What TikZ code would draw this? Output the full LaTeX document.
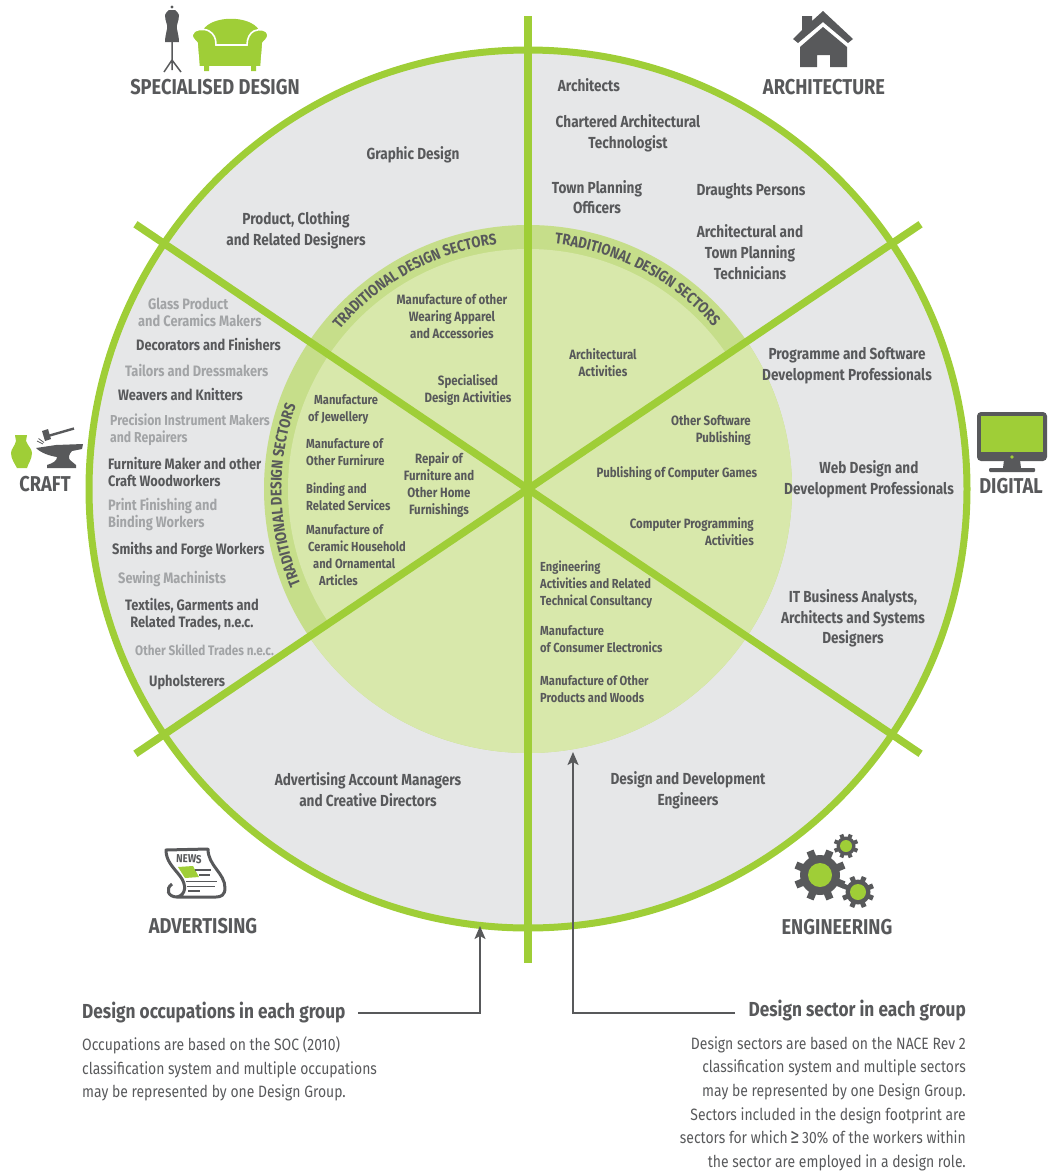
\documentclass[tikz,border=0pt]{standalone}
\usepackage{fontspec}
\setmainfont[FakeStretch=0.85]{Fira Sans}
\usetikzlibrary{decorations.text, arrows.meta, positioning}
\definecolor{leafgreen}{HTML}{9FCE37}
\definecolor{ringgreen}{HTML}{C6DE8A}
\definecolor{discgreen}{HTML}{D8E8AB}
\definecolor{panelgray}{HTML}{E6E7E8}
\definecolor{inkdark}{HTML}{58595B}
\definecolor{inklight}{HTML}{A2A4A6}
\begin{document}
\begin{tikzpicture}[
        x=1pt, y=-1pt,
        spoke/.style={draw=leafgreen, line width=7.5pt},
        occ/.style={font=\fontsize{16}{20.7}\selectfont\bfseries, text=inkdark, align=center, inner sep=0pt},
        craftdark/.style={font=\fontsize{15.1}{17}\selectfont\bfseries, text=inkdark, align=left, inner sep=0pt, anchor=west},
        craftlight/.style={craftdark, text=inklight},
        craftnarrow/.style={craftlight, font=\fontsize{14.4}{17}\selectfont\bfseries},
        sector/.style={font=\fontsize{13.5}{17}\selectfont\bfseries, text=inkdark, align=center, inner sep=0pt},
        sectorleft/.style={sector, font=\fontsize{13.1}{17}\selectfont\bfseries, align=left, anchor=west},
        sectorright/.style={sector, align=right, anchor=east},
        group/.style={font=\fontsize{21.5}{24}\selectfont\bfseries, text=inkdark, inner sep=0pt},
        keytitle/.style={font=\fontsize{20.3}{24}\selectfont\bfseries, text=inkdark, inner sep=0pt},
        keybody/.style={font=\fontsize{16.4}{23.7}\selectfont, text=inkdark, inner sep=0pt},
        keyline/.style={draw=inkdark, line width=2pt},
        keyarrow/.style={keyline, -{Stealth[length=13pt, width=11pt, inset=3pt]}},
        ringtext/.style={decorate, decoration={text along path, text align=center,
            text={|\fontsize{15.5}{15.5}\selectfont\bfseries\color{inkdark}|TRADITIONAL DESIGN SECTORS}}}
    ]
    \useasboundingbox (0,0) rectangle (1050,1173);
    \def\rOuter{439}
    \def\rRing{264}
    \def\rDisc{240}
    \def\rText{246.5}
    \def\spokeLen{473.5}
    \coordinate (hub) at (528,489);

    % wheel
    \fill[panelgray] (hub) circle[radius=\rOuter];
    \fill[ringgreen] (hub) circle[radius=\rRing];
    \fill[discgreen] (hub) -- ++(-34:\rRing) arc[start angle=-34, end angle=146, radius=\rRing] -- cycle;
    \fill[discgreen] (hub) circle[radius=\rDisc];
    \foreach \ang in {90,34,-34} {
        \draw[spoke] (hub) ++(\ang:\spokeLen) -- ++(\ang+180:2*\spokeLen);
    }
    \draw[leafgreen, line width=7pt] (hub) circle[radius=\rOuter];

    % text in the ring
    \path[ringtext] (hub) ++(156:\rText) arc[start angle=156, end angle=201, radius=\rText];
    \path[ringtext] (hub) ++(218:\rText) arc[start angle=218, end angle=265, radius=\rText];
    \path[ringtext] (hub) ++(274:\rText) arc[start angle=274, end angle=321, radius=\rText];

    % occupations
    \node[occ] (architects) at (589,85) {Architects};
    \node[occ] (chartered) at (628,133.5) {Chartered Architectural\\Technologist};
    \node[occ] (planning) at (597,197) {Town Planning\\Officers};
    \node[occ] (draughts) at (751,191) {Draughts Persons};
    \node[occ] (technicians) at (750,252) {Architectural and\\Town Planning\\Technicians};
    \node[occ] (graphic) at (413,155) {Graphic Design};
    \node[occ] (product) at (296,230.5) {Product, Clothing\\and Related Designers};
    \node[occ] (programme) at (847,365.5) {Programme and Software\\Development Professionals};
    \node[occ] (web) at (869,479.5) {Web Design and\\Development Professionals};
    \node[occ] (analysts) at (853,618.5) {IT Business Analysts,\\Architects and Systems\\Designers};
    \node[occ] (engineers) at (688,790.5) {Design and Development\\Engineers};
    \node[occ] (managers) at (368,789.5) {Advertising Account Managers\\and Creative Directors};

    % craft column
    \node[craftlight] (glass) at (138,312) {\hspace*{10pt}Glass Product\\and Ceramics Makers};
    \node[craftdark] (decorators) at (136,344) {Decorators and Finishers};
    \node[craftlight] (tailors) at (125,370) {Tailors and Dressmakers};
    \node[craftdark] (weavers) at (118,394) {Weavers and Knitters};
    \node[craftnarrow] (precision) at (110,429.5) {Precision Instrument Makers\\and Repairers};
    \node[craftdark] (furniture) at (108,471.5) {Furniture Maker and other\\Craft Woodworkers};
    \node[craftlight] (finishing) at (108,514.5) {Print Finishing and\\Binding Workers};
    \node[craftdark] (smiths) at (112,550) {Smiths and Forge Workers};
    \node[craftlight] (sewing) at (118,579) {Sewing Machinists};
    \node[craftdark, align=center, anchor=center] (textiles) at (192,614.5) {Textiles, Garments and\\Related Trades, n.e.c.};
    \node[craftnarrow, font=\fontsize{13.8}{17}\selectfont\bfseries] (skilled) at (135,650) {Other Skilled Trades n.e.c.};
    \node[craftdark] (upholsterers) at (149,682) {Upholsterers};

    % sectors
    \node[sector] (apparel) at (452,316) {Manufacture of other\\Wearing Apparel\\and Accessories};
    \node[sector] (specialised) at (468,390.5) {Specialised\\Design Activities};
    \node[sectorleft] (jewellery) at (308,409.5) {\hspace*{6pt}Manufacture\\of Jewellery};
    \node[sectorleft] (furnirure) at (306,452.5) {Manufacture of\\Other Furnirure};
    \node[sectorleft] (binding) at (306,496.5) {Binding and\\Related Services};
    \node[sectorleft] (ceramic) at (306,555.5) {Manufacture of\\\hspace*{2pt}Ceramic Household\\\hspace*{7pt}and Ornamental\\\hspace*{13pt}Articles};
    \node[sector] (repair) at (439,485.5) {Repair of\\Furniture and\\Other Home\\Furnishings};
    \node[sector] (activities) at (603,363) {Architectural\\Activities};
    \node[sectorright] (software) at (751,430.5) {Other Software\\Publishing};
    \node[sector] (games) at (677,474) {Publishing of Computer Games};
    \node[sectorright] (computing) at (754,531.5) {Computer Programming\\Activities};
    \node[sectorleft] (consultancy) at (540,585) {Engineering\\Activities and Related\\Technical Consultancy};
    \node[sectorleft] (electronics) at (540,639.5) {Manufacture\\of Consumer Electronics};
    \node[sectorleft] (woods) at (540,689.5) {Manufacture of Other\\Products and Woods};

    % group names
    \node[group] (specialgroup) at (215,87) {SPECIALISED DESIGN};
    \node[group] (archgroup) at (824,87) {ARCHITECTURE};
    \node[group] (digitalgroup) at (1011,486) {DIGITAL};
    \node[group] (craftgroup) at (45,484) {CRAFT};
    \node[group] (advertgroup) at (203,926) {ADVERTISING};
    \node[group] (enggroup) at (837,927) {ENGINEERING};

    % mannequin and sofa
    \fill[inkdark] (172,7) circle[radius=1.6];
    \fill[inkdark] (169,10) -- (175,10) .. controls (176,12) and (179,12) .. (179,15) .. controls (179,22) and (176,24) .. (177,29) .. controls (178,34) and (179,38) .. (179,42) -- (165,42) .. controls (165,38) and (166,34) .. (167,29) .. controls (168,24) and (165,22) .. (165,15) .. controls (165,12) and (168,12) .. (169,10) -- cycle;
    \draw[inkdark, line width=1.5pt] (172,42) -- (172,70) (172,60) -- (164,72) (172,60) -- (181,72);
    \fill[leafgreen] (203,30) .. controls (212,15) and (250,15) .. (259,30) -- (259,48) -- (203,48) -- cycle;
    \fill[leafgreen, draw=white, line width=1.6pt] (192,35) .. controls (193,29) and (204,28) .. (209,31) .. controls (214,34) and (216,38) .. (216,45) -- (247,45) .. controls (247,38) and (250,33) .. (254,31) .. controls (260,28) and (268,30) .. (268,35) .. controls (268,39) and (264,41) .. (263,43) -- (261,67) -- (199,67) -- (197,43) .. controls (196,41) and (192,39) .. (192,35) -- cycle;
    \fill[leafgreen] (204,66) rectangle (209,71) (251,66) rectangle (256,71);

    % house
    \fill[inkdark] (823,11) -- (853,39) -- (848,43) -- (823,22) -- (798,43) -- (793,39) -- (802,30) -- (802,16) -- (812,16) -- (812,21) -- cycle;
    \fill[inkdark] (823,27) -- (847,47) -- (847,67) -- (830,67) -- (830,55) -- (817,55) -- (817,67) -- (800,67) -- (800,47) -- cycle;

    % monitor
    \fill[inkdark, rounded corners=4pt] (977,412) rectangle (1047,461);
    \fill[leafgreen] (981,416) rectangle (1043,451.5);
    \fill[leafgreen] (1012,457) circle[radius=1.8];
    \fill[inkdark] (1004,460) -- (1020,460) -- (1021,468) -- (1003,468) -- cycle;
    \fill[inkdark, rounded corners=1pt] (989,468) rectangle (1035,472);

    % vase, anvil and hammer
    \fill[leafgreen] (15,435) -- (27,435) -- (26,441) .. controls (28,446) and (32,449) .. (32,453) .. controls (32,459) and (28,464) .. (27,468) -- (17,468) .. controls (15,464) and (11,459) .. (11,453) .. controls (11,449) and (15,446) .. (16,441) -- cycle;
    \fill[inkdark] (36,448) -- (56,445) -- (83,444) -- (82,449) -- (72,451) .. controls (69,454) and (68,458) .. (70,460) -- (76,465) -- (76,468) -- (47,468) -- (47,465) .. controls (53,463) and (57,461) .. (57,457) .. controls (50,456) and (41,453) .. (36,448) -- cycle;
    \fill[inkdark] (42,431) -- (48,429) -- (51,439) -- (45,441) -- cycle;
    \draw[inkdark, line width=2.4pt] (48,436) -- (74,428.5);
    \draw[inkdark, line width=.8pt] (37,441) -- (43,444) (38.5,438.5) -- (44,442.5);

    % newspaper
    \draw[inkdark, line width=3pt, fill=white, line join=round] (166,850) -- (208,849) .. controls (208,866) and (225,873) .. (225,888) .. controls (225,895) and (221,897) .. (216,897) -- (177,897) .. controls (186,895) and (187,885) .. (180,876) .. controls (173,867) and (166,861) .. (166,850) -- cycle;
    \draw[inkdark, line width=3pt] (177,897) .. controls (168,897) and (165,889) .. (172,884);
    \node[font=\fontsize{11.5}{11.5}\selectfont\bfseries, text=inkdark, inner sep=0pt, rotate=-2] (newshead) at (189,859) {NEWS};
    \fill[leafgreen] (178,867) -- (193,866) -- (199,877) -- (185,878) -- cycle;
    \draw[inkdark, line width=1.8pt] (195,870) -- (211,870) (199,875) -- (210,875) (186,881.5) -- (217,881.5) (187,886.5) -- (215,886.5) (188,891) -- (200,891);

    % gears
    \foreach \gx/\gy/\gr/\gh/\gw in {820/875/20/12/7.5, 858/892/12.5/8/5, 846/846/9.5/6/4} {
        \fill[inkdark] (\gx,\gy) circle[radius=\gr];
        \foreach \ang in {0,45,...,135} {
            \fill[inkdark, rotate around={\ang+22.5:(\gx,\gy)}] (\gx-\gr*1.3,\gy-\gw/2) rectangle (\gx+\gr*1.3,\gy+\gw/2);
        }
        \fill[leafgreen] (\gx,\gy) circle[radius=\gh];
    }

    % keys
    \node[keytitle, anchor=west] (occtitle) at (82,1013) {Design occupations in each group};
    \node[keybody, anchor=north west, align=left] (occbody) at (82,1036.5) {Occupations are based on the SOC (2010)\\classification system and multiple occupations\\may be represented by one Design Group.};
    \node[keytitle, anchor=east] (sectitle) at (966,1011) {Design sector in each group};
    \node[keybody, anchor=north east, align=right] (secbody) at (966,1036) {Design sectors are based on the NACE Rev 2\\classification system and multiple sectors\\may be represented by one Design Group.\\Sectors included in the design footprint are\\sectors for which\,{\fontsize{21}{21}\selectfont ≥}\,30\% of the workers within\\the sector are employed in a design role.};
    \coordinate (occtip) at (480,926);
    \coordinate (sectip) at (573,752);
    \coordinate (occstart) at (358,1013);
    \coordinate (secstart) at (735,1013);
    \draw[keyarrow] (occstart) -| (occtip);
    \draw[keyarrow] (secstart) -| (sectip);
\end{tikzpicture}
\end{document}
